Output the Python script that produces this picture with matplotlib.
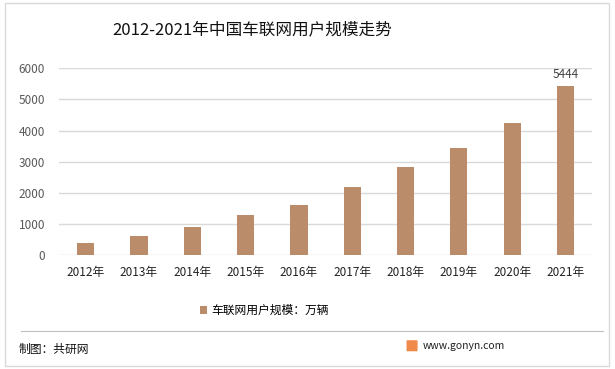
import matplotlib.pyplot as plt
from matplotlib.patches import Rectangle, FancyBboxPatch
from matplotlib.lines import Line2D

plt.rcParams['font.family'] = ['Noto Sans CJK SC', 'DejaVu Sans']

# Data
years = ['2012年', '2013年', '2014年', '2015年', '2016年',
         '2017年', '2018年', '2019年', '2020年', '2021年']
users = [380, 600, 900, 1280, 1600, 2180, 2830, 3440, 4240, 5444]
series_name = '车联网用户规模：万辆'
title = '2012-2021年中国车联网用户规模走势'

bar_color = '#BB8C6A'

fig = plt.figure(figsize=(6.15, 3.69), dpi=100)
ax = fig.add_axes([0.096, 0.309, 0.867, 0.506])

x = range(len(years))
ax.bar(x, users, width=0.32, color=bar_color, label=series_name, zorder=3)
ax.set_xlim(-0.5, len(years) - 0.5)
ax.set_ylim(0, 6000)
ax.set_yticks(range(0, 6001, 1000))
ax.set_xticks(list(x))
ax.set_xticklabels(years, fontsize=8.5, color='#222222')
ax.tick_params(axis='y', labelsize=8.5, colors='#595959', length=0, pad=10)
ax.tick_params(axis='x', length=0, pad=8)
ax.grid(axis='y', color='#D9D9D9', linewidth=1, zorder=0)
for s in ax.spines.values():
    s.set_visible(False)

# value label on the last bar
ax.text(x[-1], users[-1] + 150, str(users[-1]), ha='center', va='bottom',
        fontsize=8.5, color='#404040')

fig.text(0.41, 0.918, title, ha='center', va='center', fontsize=12, color='#111111')

leg = fig.legend(loc='center', bbox_to_anchor=(0.43, 0.158), frameon=False,
                 fontsize=8.5, handlelength=0.6, handleheight=0.6, handletextpad=0.4)

# frame and separator
fig.add_artist(Rectangle((0.008, 0.008), 0.982, 0.984, transform=fig.transFigure,
                         fill=False, edgecolor='#D9D9D9', linewidth=1))
fig.add_artist(Line2D([0.034, 0.98], [0.103, 0.103], transform=fig.transFigure,
                      color='#BFBFBF', linewidth=0.8))

fig.text(0.03, 0.054, '制图：共研网', ha='left', va='center', fontsize=8.5, color='#111111')
fig.add_artist(FancyBboxPatch((0.663, 0.05), 0.014, 0.026, boxstyle='round,pad=0.002',
                              transform=fig.transFigure, facecolor='#F08A4B',
                              edgecolor='none'))
fig.text(0.688, 0.062, 'www.gonyn.com', ha='left', va='center', fontsize=7.5, color='#222222')

fig.savefig('out.png', dpi=100, facecolor='white')
